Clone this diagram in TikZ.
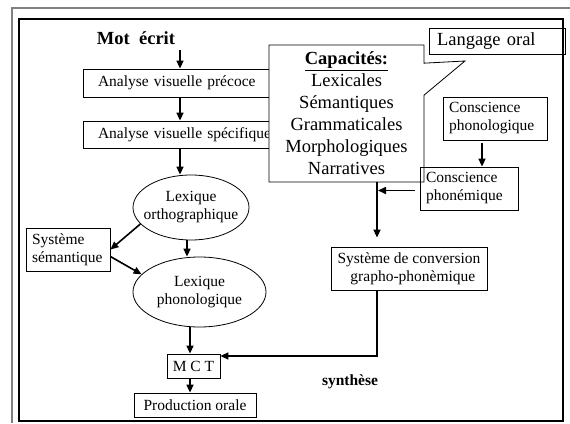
\documentclass[tikz,border=0pt]{standalone}
\usepackage{fontspec}
\setmainfont{Liberation Serif}
\usetikzlibrary{arrows.meta,shapes.geometric,shapes.callouts}
\begin{document}
\begin{tikzpicture}[x=1pt,y=-1pt,
  txt/.style={font=\fontsize{15.5}{18}\selectfont},
  big/.style={font=\fontsize{18.5}{22}\selectfont},
  box/.style={draw,line width=0.8pt,inner sep=0pt,align=center,txt},
  lbox/.style={box,align=left,inner xsep=6pt},
  oval/.style={draw,ellipse,line width=0.8pt,inner sep=0pt},
  arr/.style={line width=1.6pt,-{Triangle[length=8pt,width=7pt]}}
]
\useasboundingbox (0,0) rectangle (570,423);
\draw[gray,line width=2pt] (12,423) -- (12,8) -- (570,8);
\draw[line width=2pt] (19,19) rectangle (563,421);

\coordinate (ax) at (190,0);
\coordinate (vx) at (377,0);
\coordinate (px) at (482,0);
\coordinate (motarr) at (180,50);

\node[font=\bfseries\fontsize{18.5}{22}\selectfont] (mot) at (136,38) {Mot\ \ écrit};
\node[lbox,inner xsep=15pt,text width=177pt,minimum height=28pt] (avp) at (186.5,83) {Analyse visuelle précoce};
\node[lbox,inner xsep=15pt,text width=177pt,minimum height=27pt] (avs) at (186.5,134.5) {Analyse visuelle spécifique};
\draw[arr] (motarr) -- (avp.north -| motarr);
\draw[arr] (avp.south -| motarr) -- (avs.north -| motarr);

\node[oval,minimum width=116pt,minimum height=65pt] (lo) at (191,207.5) {};
\node[txt,align=center] (lot) at (lo) {Lexique\\orthographique};
\draw[arr] (avs.south -| motarr) -- (lo.north -| motarr);

\node[oval,minimum width=133pt,minimum height=70pt] (lp) at (199.5,292) {};
\node[txt,align=center] (lpt) at (lp) {Lexique\\phonologique};

\node[lbox,text width=72pt,minimum height=43pt] (ss) at (68,249.5) {Système\\sémantique};
\draw[arr] (lo.198) -- (ss.east);
\draw[arr] ([yshift=-7pt]ss.east) -- (lp.163);
\draw[arr] ([xshift=-4pt]lo.south) -- ([xshift=-4pt]lo.south |- lp.north);

\node[box,minimum width=53pt,minimum height=24pt] (mct) at (193.5,366) {M C T};
\node[box,minimum width=122pt,minimum height=24pt] (po) at (195,405) {Production orale};
\draw[arr] (lp.south -| ax) -- (mct.north -| ax);
\draw[arr] (mct.south -| ax) -- (po.north -| ax);

\node[box,minimum width=156pt,minimum height=43pt] (gp) at (409,268.5) {Système de conversion\\\ \ grapho-phonèmique};
\draw[arr] (gp.south -| vx) |- ([yshift=10pt]mct.east);

\node[rectangle callout,draw,fill=white,line width=0.8pt,minimum width=155pt,minimum height=137pt,
  inner sep=0pt,callout absolute pointer={(465,61)},callout pointer width=32pt,align=center,big] (cap)
  at (346.5,113.5) {\underline{\textbf{Capacités:}}\\Lexicales\\Sémantiques\\Grammaticales\\Morphologiques\\Narratives};
\draw[arr] (cap.south -| vx) -- ([yshift=9pt]gp.north -| vx);

\node[lbox,text width=92pt,minimum height=43pt] (cpho) at (495,118.5) {Conscience\\phonologique};
\node[lbox,text width=86pt,minimum height=43pt] (cphm) at (469,188.5) {Conscience\\phonémique};
\draw[arr] ([yshift=-3pt]cpho.south -| px) -- (cphm.north -| px);
\draw[arr] ([xshift=-5pt,yshift=-2pt]cphm.west) -- ([xshift=1pt,yshift=-2pt]cphm.west -| vx);

\node[lbox,big,text width=120pt,inner xsep=8pt,minimum height=26pt] (lang) at (497,41) {Langage oral};

\node[font=\bfseries\fontsize{15.5}{18}\selectfont] (syn) at (350,382) {synthèse};
\end{tikzpicture}
\end{document}
